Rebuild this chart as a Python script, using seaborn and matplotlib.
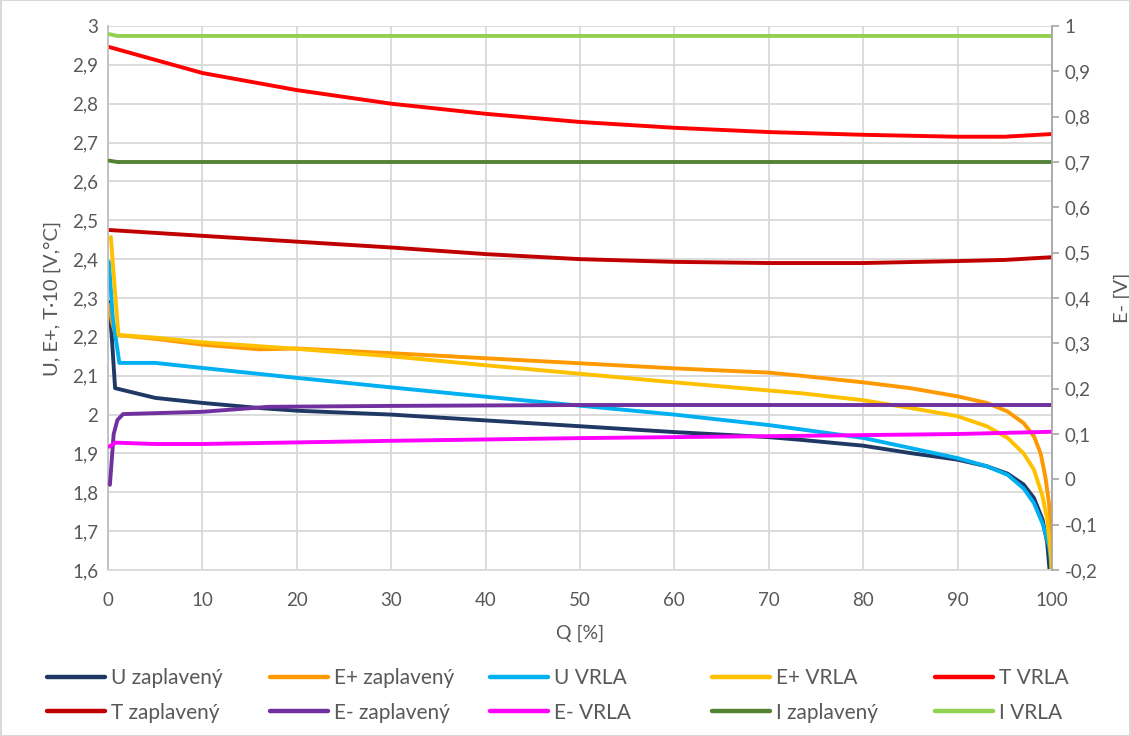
import numpy as np
import pandas as pd
import matplotlib
matplotlib.use("Agg")
import matplotlib.pyplot as plt
from matplotlib.ticker import FuncFormatter, MultipleLocator
from matplotlib.patches import Rectangle
import seaborn as sns

# ---------------- data ----------------
q_u_zap = [0.1, 0.4, 0.75, 5, 10, 16, 20, 30, 40, 50, 60, 70, 73.4, 80, 85, 90, 93.1, 95.3, 97, 98.1, 99, 99.5, 99.85]
u_zap   = [2.29, 2.20, 2.068, 2.043, 2.03, 2.017, 2.01, 2.0, 1.985, 1.97, 1.955, 1.942, 1.935, 1.92, 1.901, 1.884, 1.867, 1.848, 1.82, 1.785, 1.73, 1.67, 1.57]

q_ep_zap = [0.1, 0.4, 0.8, 5, 10, 16, 20, 30, 40, 50, 60, 70, 73.4, 80, 85, 90, 93.1, 95.3, 97, 98.1, 98.8, 99.3, 99.7, 99.9, 100]
ep_zap   = [2.282, 2.24, 2.205, 2.195, 2.18, 2.168, 2.17, 2.158, 2.145, 2.132, 2.119, 2.108, 2.10, 2.083, 2.068, 2.047, 2.03, 2.008, 1.978, 1.944, 1.90, 1.84, 1.77, 1.686, 1.58]

q_u_vrla = [0.1, 0.5, 1.2, 5, 10, 19, 30, 40, 50, 60, 70, 73.4, 80, 85, 90, 93.1, 95.3, 97, 98.1, 99, 99.7, 100]
u_vrla   = [2.393, 2.25, 2.133, 2.133, 2.12, 2.097, 2.07, 2.046, 2.023, 2.0, 1.973, 1.962, 1.94, 1.914, 1.888, 1.867, 1.845, 1.81, 1.772, 1.72, 1.66, 1.60]

q_ep_vrla = [0.3, 0.7, 1.1, 5, 10, 19, 30, 40, 50, 60, 70, 73.4, 80, 85, 90, 93.1, 95.3, 97, 98.1, 99, 99.5, 99.9, 100]
ep_vrla   = [2.457, 2.33, 2.205, 2.198, 2.186, 2.171, 2.15, 2.127, 2.105, 2.083, 2.062, 2.055, 2.037, 2.017, 1.996, 1.97, 1.94, 1.90, 1.858, 1.79, 1.73, 1.635, 1.58]

q_t = [0.1, 10, 20, 30, 40, 50, 60, 70, 80, 90, 95, 100]
t_vrla = [2.946, 2.879, 2.835, 2.80, 2.774, 2.753, 2.738, 2.727, 2.72, 2.715, 2.715, 2.722]
t_zap  = [2.475, 2.46, 2.445, 2.43, 2.413, 2.40, 2.393, 2.39, 2.39, 2.395, 2.398, 2.405]

q_em_zap = [0.2, 0.6, 1.0, 1.6, 10, 17, 30, 50, 70, 90, 100]
em_zap   = [-0.012, 0.10, 0.131, 0.144, 0.149, 0.16, 0.162, 0.164, 0.164, 0.164, 0.164]

q_em_vrla = [0.1, 0.8, 5, 10, 30, 50, 73.4, 90, 100]
em_vrla   = [0.072, 0.081, 0.078, 0.078, 0.085, 0.091, 0.096, 0.100, 0.105]

q_i = [0.1, 1, 50, 100]
i_zap  = [0.703, 0.70, 0.70, 0.70]
i_vrla = [0.982, 0.978, 0.978, 0.978]

left_series = [
    ("U zaplavený", q_u_zap, u_zap, "#1F3864"),
    ("E+ zaplavený", q_ep_zap, ep_zap, "#FF9900"),
    ("U VRLA", q_u_vrla, u_vrla, "#00B0F0"),
    ("E+ VRLA", q_ep_vrla, ep_vrla, "#FFC000"),
    ("T VRLA", q_t, t_vrla, "#FF0000"),
    ("T zaplavený", q_t, t_zap, "#C00000"),
]
right_series = [
    ("E- zaplavený", q_em_zap, em_zap, "#7030A0"),
    ("E- VRLA", q_em_vrla, em_vrla, "#FF00FF"),
    ("I zaplavený", q_i, i_zap, "#548235"),
    ("I VRLA", q_i, i_vrla, "#92D050"),
]

# ---------------- style ----------------
sns.set_style("white")
plt.rcParams["font.family"] = ["Lato", "DejaVu Sans"]
txt = "#595959"
grid_c = "#D9D9D9"

fig = plt.figure(figsize=(11.31, 7.36), dpi=100)
ax = fig.add_axes([0.0955, 0.2255, 0.8346, 0.7392])
ax2 = ax.twinx()

lw = 2.8
handles = {}
for name, q, v, c in left_series:
    df = pd.DataFrame({"Q": q, "V": v})
    sns.lineplot(data=df, x="Q", y="V", ax=ax, color=c, lw=lw, sort=False,
                 estimator=None, solid_capstyle="round", solid_joinstyle="round")
    handles[name] = ax.lines[-1]
for name, q, v, c in right_series:
    df = pd.DataFrame({"Q": q, "V": v})
    sns.lineplot(data=df, x="Q", y="V", ax=ax2, color=c, lw=lw, sort=False,
                 estimator=None, solid_capstyle="round", solid_joinstyle="round")
    handles[name] = ax2.lines[-1]

def fmt(v, pos):
    s = f"{v:.1f}"
    if s in ("-0.0", "0.0"):
        return "0"
    s = s.rstrip("0").rstrip(".")
    return s.replace(".", ",")

ax.set_xlim(0, 100)
ax.set_ylim(1.6, 3.0)
ax2.set_ylim(-0.2, 1.0)
ax.xaxis.set_major_locator(MultipleLocator(10))
ax.yaxis.set_major_locator(MultipleLocator(0.1))
ax2.yaxis.set_major_locator(MultipleLocator(0.1))
ax.yaxis.set_major_formatter(FuncFormatter(fmt))
ax2.yaxis.set_major_formatter(FuncFormatter(fmt))
ax.xaxis.set_major_formatter(FuncFormatter(lambda v, p: f"{v:.0f}"))

ax.grid(True, color=grid_c, lw=1.3)
ax.set_axisbelow(True)
for a in (ax, ax2):
    for s in a.spines.values():
        s.set_visible(False)
ax.spines["left"].set_visible(True)
ax.spines["left"].set_color("#BFBFBF")
ax.spines["left"].set_linewidth(1.3)
ax2.spines["right"].set_visible(True)
ax2.spines["right"].set_color("#A6A6A6")
ax2.spines["right"].set_linewidth(1.3)
ax.spines["bottom"].set_visible(True)
ax.spines["bottom"].set_color(grid_c)
ax.spines["bottom"].set_linewidth(1.3)

ax.tick_params(axis="y", length=0, labelsize=13.5, labelcolor=txt, pad=7)
ax.tick_params(axis="x", length=0, labelsize=13.5, labelcolor=txt, pad=16)
ax2.tick_params(axis="y", length=5, width=1.2, color="#A6A6A6", labelsize=13.5, labelcolor=txt, pad=4)

ax.set_xlabel("Q [%]", fontsize=14, color=txt, labelpad=11)
ax.set_ylabel("U, E+, T·10 [V,°C]", fontsize=14.5, color=txt, labelpad=8)
ax2.set_ylabel("E- [V]", fontsize=14.5, color=txt, labelpad=12)

rows = [["U zaplavený", "T zaplavený"], ["E+ zaplavený", "E- zaplavený"],
        ["U VRLA", "E- VRLA"], ["E+ VRLA", "I zaplavený"], ["T VRLA", "I VRLA"]]
col_x = [47, 270, 490, 712, 935]
for cx, names in zip(col_x, rows):
    lg = fig.legend([handles[n] for n in names], names, loc="upper left",
                    bbox_to_anchor=(cx / 1131, 1 - 668 / 736), frameon=False,
                    fontsize=15, handlelength=2.8, handletextpad=0.25,
                    labelspacing=0.7, borderpad=0, borderaxespad=0,
                    labelcolor=txt)
    for h in lg.legend_handles:
        h.set_linewidth(3.2)

fig.add_artist(Rectangle((0.0005, 0.0005), 0.999, 0.999, transform=fig.transFigure,
                         fill=False, edgecolor="#D9D9D9", lw=1.5))

fig.savefig("out.png", dpi=100)
